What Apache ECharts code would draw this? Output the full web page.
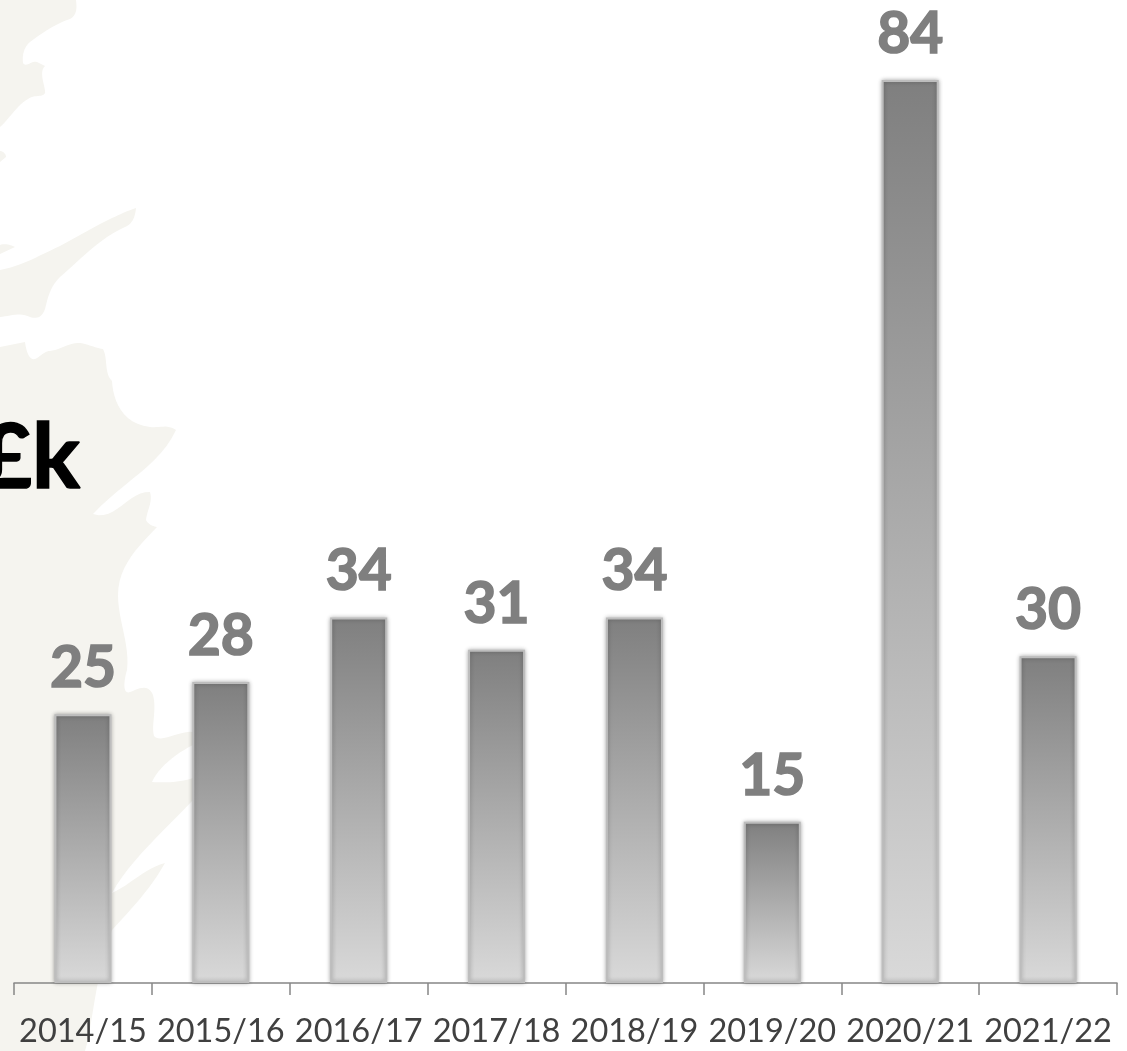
<!DOCTYPE html>
<html><head><meta charset="utf-8">
<style>html,body{margin:0;padding:0;background:#fff}#c{width:1127px;height:1051px}</style>
<script src="https://cdn.jsdelivr.net/npm/echarts@6/dist/echarts.min.js"></script>
</head><body><div id="c"></div>
<script>
const categories = ['2014/15','2015/16','2016/17','2017/18','2018/19','2019/20','2020/21','2021/22'];
const values = [25, 28, 34, 31, 34, 15, 84, 30.4];
const unitLabel = '£k';
const mapColor = '#F5F4EF';
const mapOutlines = [
 'M0 0 L76 0 C77 8 77 15 70 19 C55 24 42 33 30 42 C24 47 22 55 23 63 C26 68 32 60 37 62 L45 66 C38 72 46 88 45 93 C43 98 34 94 28 99 C18 104 10 118 0 127 Z',
 'M0 151 C3 151 6 154 6 157 L0 162 Z',
 'M0 245 C5 243 11 245 15 247 L0 254 Z',
 'M0 270 C22 266 40 255 60 246 L100 224 C112 218 124 212 136 208 C135 218 132 224 125 227 C100 238 82 258 60 277 C50 287 48 297 45 309 C42 318 36 319 30 317 C20 312 10 316 0 317 Z',
 'M0 347 L25 342 C26 350 29 361 35 359 C40 357 44 351 50 351 C60 350 70 342 80 343 C88 344 95 348 103 349 C108 358 104 374 112 381 C113 400 122 424 150 427 C158 428 168 424 176 430 C160 465 125 480 93 514 C115 522 130 490 150 492 C153 502 147 510 146 520 C148 524 152 526 157 527 C140 545 118 565 118 595 C118 620 130 645 127 670 C124 680 122 695 130 692 C136 690 148 682 153 695 C157 710 151 725 154 736 C160 744 180 730 193 732 L193 745 C175 754 158 768 152 782 C165 783 182 782 193 778 L193 800 C165 830 130 860 112 893 C130 885 145 868 165 863 C150 890 130 910 112 930 C100 960 95 1000 88 1040 L85 1051 L0 1051 Z'
];
function outlineToPoints(d){
  const t=d.match(/[MLCZ]|-?\d+(\.\d+)?/g); const pts=[]; let i=0,cur=[0,0];
  while(i<t.length){
    const c=t[i++];
    if(c==='M'||c==='L'){cur=[+t[i++],+t[i++]];pts.push(cur);}
    else if(c==='C'){
      const a=[+t[i++],+t[i++]],b=[+t[i++],+t[i++]],e=[+t[i++],+t[i++]];
      for(let s=1;s<=12;s++){const u=s/12,v=1-u;
        pts.push([v*v*v*cur[0]+3*v*v*u*a[0]+3*v*u*u*b[0]+u*u*u*e[0],
                  v*v*v*cur[1]+3*v*v*u*a[1]+3*v*u*u*b[1]+u*u*u*e[1]]);}
      cur=e;
    }
  }
  return pts;
}
const chart = echarts.init(document.getElementById('c'), null, {renderer:'canvas'});
chart.setOption({
  animation:false,
  backgroundColor:'#fff',
  graphic:{elements:[
    ...mapOutlines.map(d=>({type:'polygon',z:-10,silent:true,shape:{points:outlineToPoints(d)},style:{fill:mapColor}})),
    {type:'text',z:-5,silent:true,x:80,y:414,style:{text:unitLabel,fill:'#000',stroke:'#000',lineWidth:1.5,font:'bold 90px Lato',align:'right'}}
  ]},
  grid:{left:14,right:10,top:80,bottom:68,containLabel:false},
  xAxis:{type:'category',data:categories,
    axisLine:{lineStyle:{color:'#868686',width:1.5}},
    axisTick:{show:true,alignWithLabel:false,length:12,lineStyle:{color:'#868686',width:1.5}},
    axisLabel:{color:'#404040',fontFamily:'Lato',fontSize:32.5,margin:32,interval:0,hideOverlap:false}},
  yAxis:{type:'value',min:0,max:84,show:false,splitLine:{show:false}},
  series:[{type:'bar',data:values,barWidth:57,
    itemStyle:{
      color:{type:'linear',x:0,y:0,x2:0,y2:1,colorStops:[{offset:0,color:'#7f7f7f'},{offset:1,color:'#d9d9d9'}]},
      borderColor:'#bdbdbd',borderWidth:2,shadowBlur:4,shadowColor:'rgba(0,0,0,0.3)'},
    label:{show:true,position:'top',distance:17,color:'#7f7f7f',fontFamily:'Lato',fontWeight:'bold',fontSize:57,
      textBorderColor:'#7f7f7f',textBorderWidth:1.6,
      formatter:p=>String(Math.round(p.value))}
  }]
});
</script></body></html>
